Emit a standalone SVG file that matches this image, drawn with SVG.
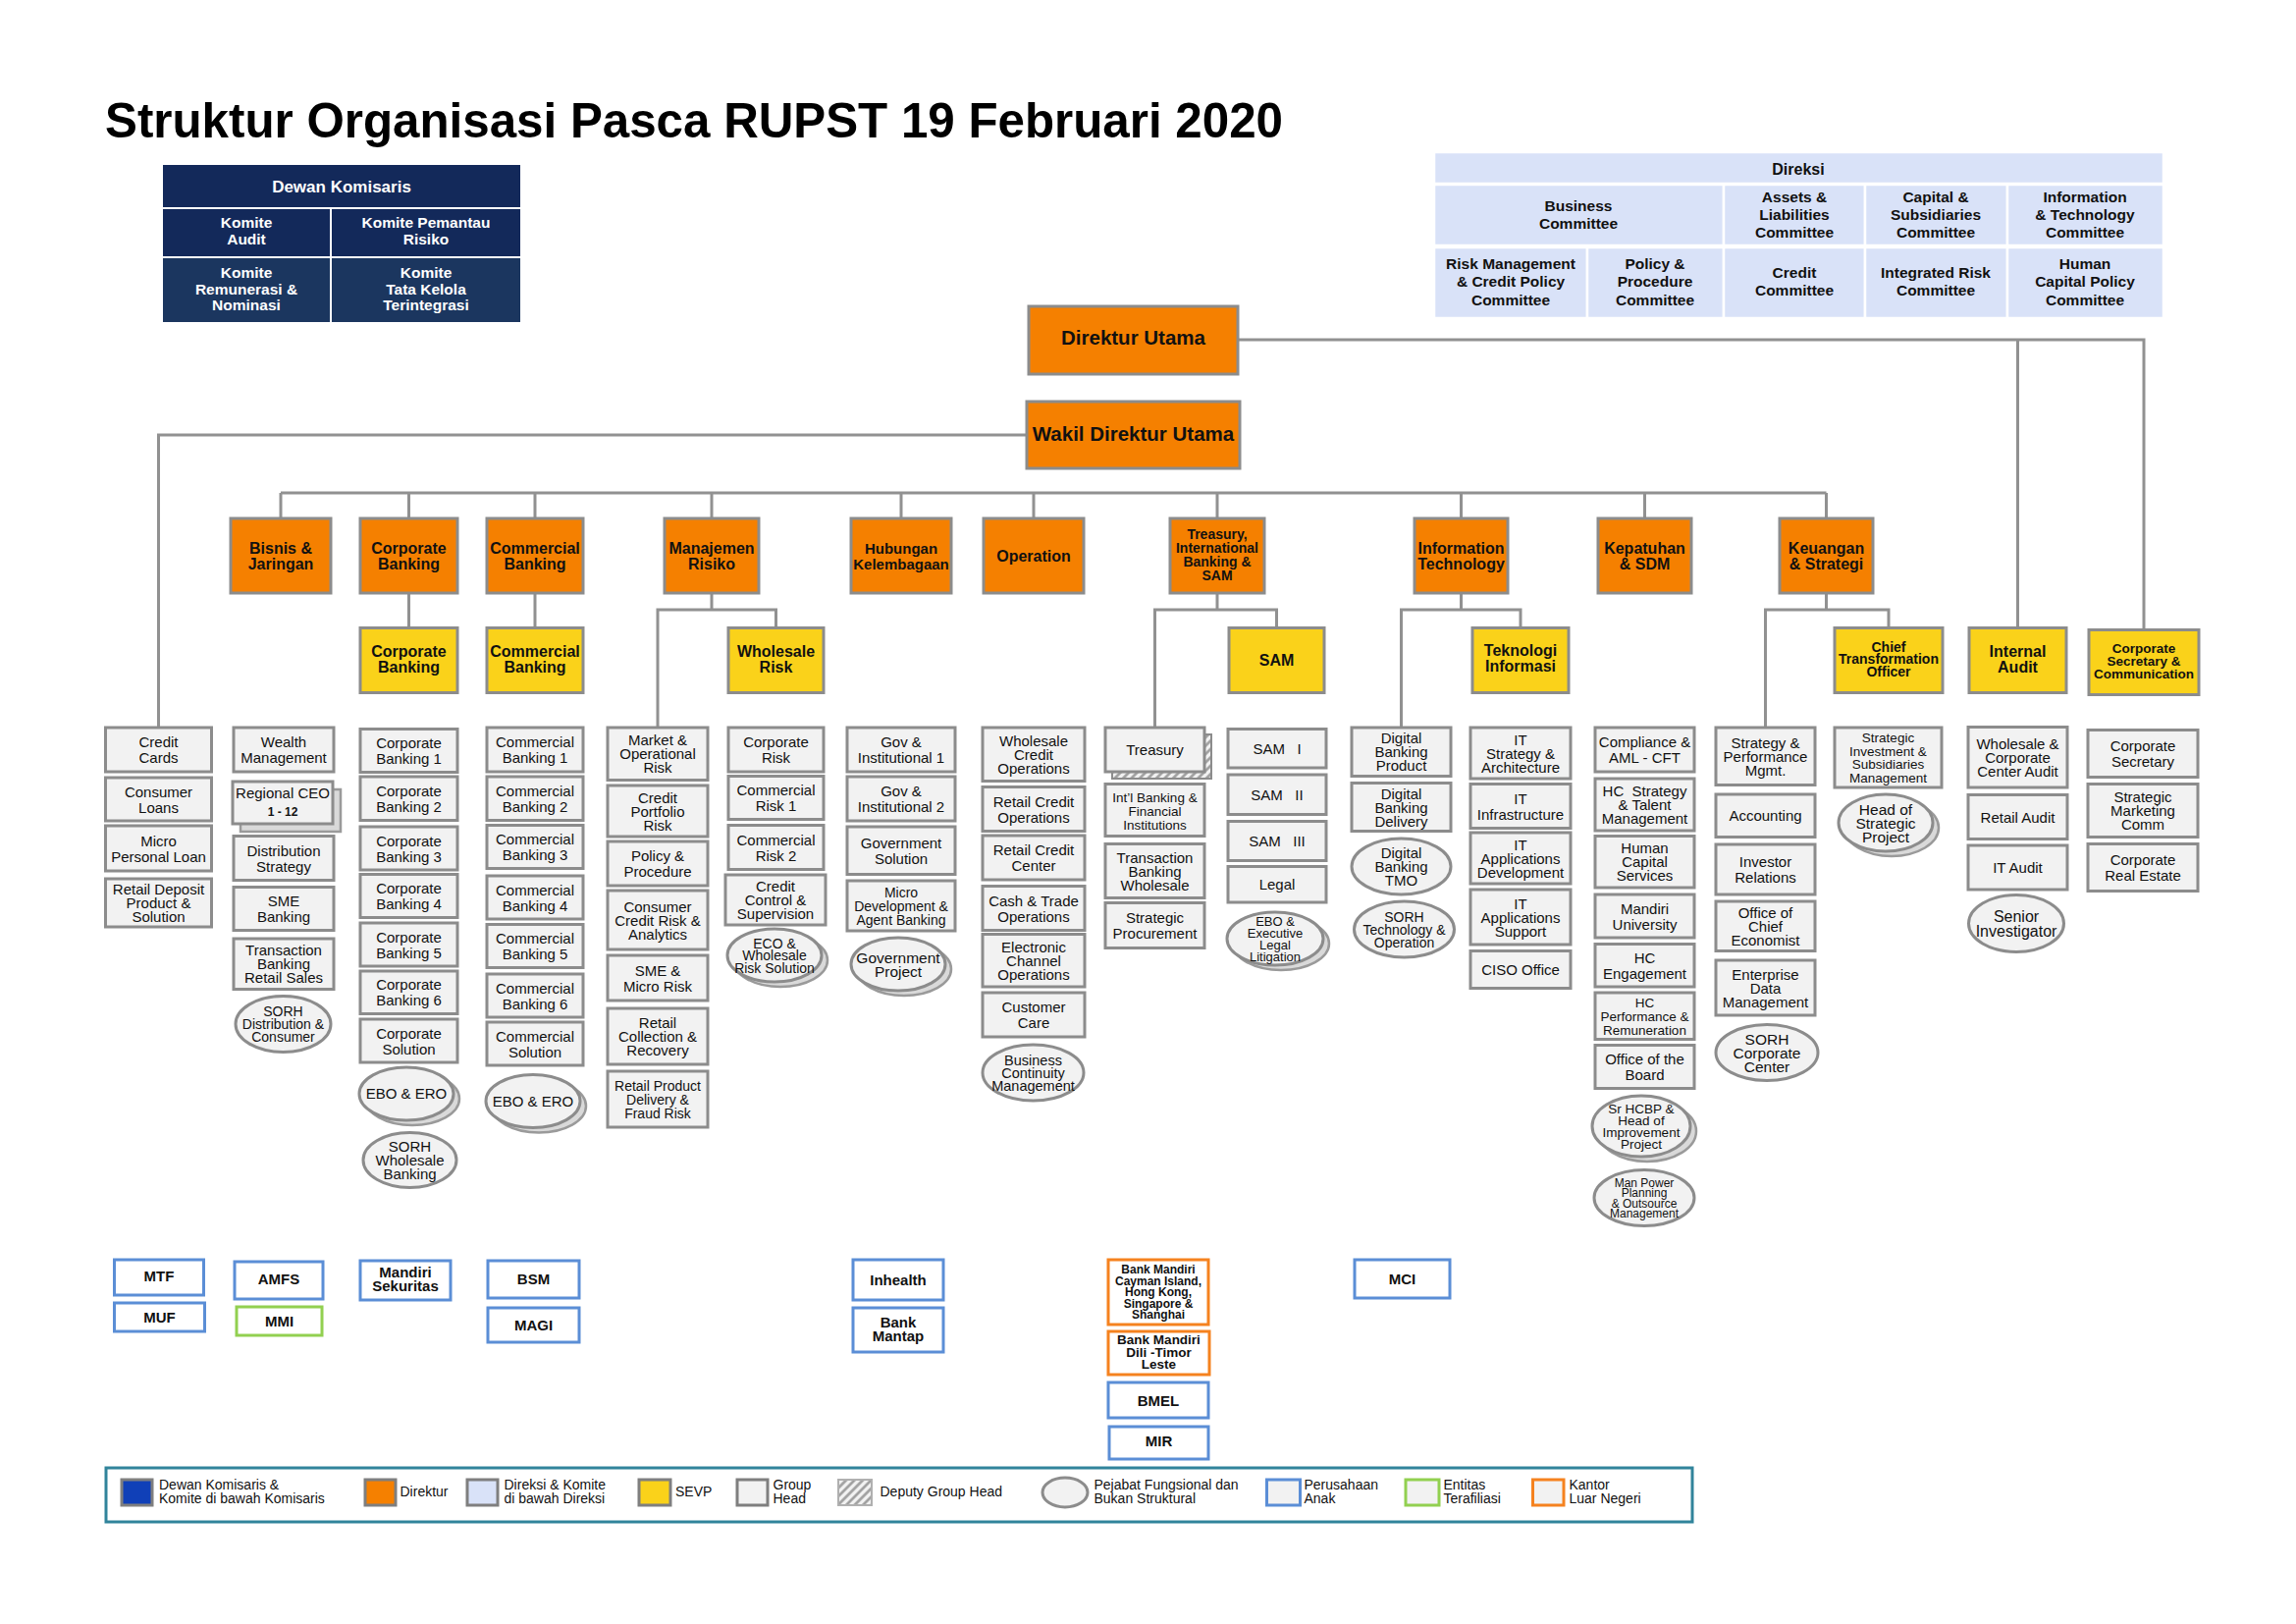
<svg xmlns="http://www.w3.org/2000/svg" width="2339" height="1654" viewBox="0 0 2339 1654">
<defs>
<pattern id="hatch" patternUnits="userSpaceOnUse" width="6" height="6" patternTransform="rotate(45)">
<rect width="6" height="6" fill="#f2f2f2"/><line x1="1.5" y1="0" x2="1.5" y2="6" stroke="#9a9a9a" stroke-width="2.5"/>
</pattern>
<style>
.t{font-family:"Liberation Sans",Arial,sans-serif;text-anchor:middle;fill:#111}
.l{font-family:"Liberation Sans",Arial,sans-serif;text-anchor:start;fill:#111;font-size:14px}
.f17{font-size:17px}.f16{font-size:16px}.f155{font-size:15.5px}.f15{font-size:15px}.f145{font-size:14.5px}.f14{font-size:14px}.f135{font-size:13.5px}.f13{font-size:13px}.f12{font-size:12px}
.b{font-weight:bold}.w{fill:#fff}
.gb{fill:#f2f2f2;stroke:#8c8c8c;stroke-width:3}
.gs{fill:#d9d9d9;stroke:#9a9a9a;stroke-width:2.5}
.ob{fill:#f58000;stroke:#8c8c8c;stroke-width:3}
.yb{fill:#fad21a;stroke:#8c8c8c;stroke-width:3}
.sb{fill:#fff;stroke:#5b8ed6;stroke-width:3}
.gr{fill:#fff;stroke:#92d050;stroke-width:3}
.kb{fill:#fff;stroke:#f5821f;stroke-width:3}
.dk{fill:#d9e2f8;stroke:#fff;stroke-width:2.5}
.con{fill:none;stroke:#919191;stroke-width:3}
</style>
</defs>
<rect width="2339" height="1654" fill="#fff"/>

<text x="107" y="140" font-family="Liberation Sans,Arial,sans-serif" font-weight="bold" font-size="50" fill="#000" textLength="1200" lengthAdjust="spacingAndGlyphs">Struktur Organisasi Pasca RUPST 19 Februari 2020</text>

<g id="dewan-komisaris">
<rect x="166" y="168" width="364" height="43" fill="#13295a"/>
<rect x="166" y="213" width="170" height="48" fill="#13295a"/>
<rect x="338" y="213" width="192" height="48" fill="#13295a"/>
<rect x="166" y="263" width="170" height="65" fill="#1b365f"/>
<rect x="338" y="263" width="192" height="65" fill="#1b365f"/>
<text class="t b w f17" x="348" y="196">Dewan Komisaris</text>
<text class="t b w f155"><tspan x="251" y="232">Komite</tspan><tspan x="251" y="249">Audit</tspan></text>
<text class="t b w f155"><tspan x="434" y="232">Komite Pemantau</tspan><tspan x="434" y="249">Risiko</tspan></text>
<text class="t b w f155"><tspan x="251" y="283">Komite</tspan><tspan x="251" y="299.5">Remunerasi &amp;</tspan><tspan x="251" y="315.5">Nominasi</tspan></text>
<text class="t b w f155"><tspan x="434" y="283">Komite</tspan><tspan x="434" y="299.5">Tata Kelola</tspan><tspan x="434" y="315.5">Terintegrasi</tspan></text>
</g>

<g id="direksi">
<rect class="dk" x="1461" y="155" width="743" height="32"/>
<rect class="dk" x="1461" y="188" width="295" height="62"/>
<rect class="dk" x="1756" y="188" width="144" height="62"/>
<rect class="dk" x="1900" y="188" width="145" height="62"/>
<rect class="dk" x="2045" y="188" width="159" height="62"/>
<rect class="dk" x="1461" y="252" width="156" height="72"/>
<rect class="dk" x="1617" y="252" width="139" height="72"/>
<rect class="dk" x="1756" y="252" width="144" height="72"/>
<rect class="dk" x="1900" y="252" width="145" height="72"/>
<rect class="dk" x="2045" y="252" width="159" height="72"/>
<text class="t b f16" x="1832" y="178">Direksi</text>
<text class="t b f155"><tspan x="1608" y="214.5">Business</tspan><tspan x="1608" y="233">Committee</tspan></text>
<text class="t b f155"><tspan x="1828" y="205.5">Assets &amp;</tspan><tspan x="1828" y="224">Liabilities</tspan><tspan x="1828" y="242">Committee</tspan></text>
<text class="t b f155"><tspan x="1972" y="205.5">Capital &amp;</tspan><tspan x="1972" y="224">Subsidiaries</tspan><tspan x="1972" y="242">Committee</tspan></text>
<text class="t b f155"><tspan x="2124" y="205.5">Information</tspan><tspan x="2124" y="224">&amp; Technology</tspan><tspan x="2124" y="242">Committee</tspan></text>
<text class="t b f155"><tspan x="1539" y="274">Risk Management</tspan><tspan x="1539" y="292">&amp; Credit Policy</tspan><tspan x="1539" y="311">Committee</tspan></text>
<text class="t b f155"><tspan x="1686" y="274">Policy &amp;</tspan><tspan x="1686" y="292">Procedure</tspan><tspan x="1686" y="311">Committee</tspan></text>
<text class="t b f155"><tspan x="1828" y="283">Credit</tspan><tspan x="1828" y="301">Committee</tspan></text>
<text class="t b f155"><tspan x="1972" y="283">Integrated Risk</tspan><tspan x="1972" y="301">Committee</tspan></text>
<text class="t b f155"><tspan x="2124" y="274">Human</tspan><tspan x="2124" y="292">Capital Policy</tspan><tspan x="2124" y="311">Committee</tspan></text>
</g>

<g id="connectors">
<path class="con" d="M1261 346 H2184 V641.5"/>
<path class="con" d="M2055.5 346 V639.5"/>
<path class="con" d="M1046 443 H161.5 V741"/>
<path class="con" d="M286 502 H1860.5"/>
<path class="con" d="M286 502 V528 M416.5 502 V528 M545 502 V528 M725 502 V528 M918 502 V528 M1053 502 V528 M1240 502 V528 M1488.5 502 V528 M1675.5 502 V528 M1860.5 502 V528"/>
<path class="con" d="M416.5 604 V639.5 M545 604 V639.5"/>
<path class="con" d="M725 604 V621 M670 741 V621 H790.5 V639.5"/>
<path class="con" d="M1240 604 V621 M1176.5 741 V621 H1300.5 V639.5"/>
<path class="con" d="M1488.5 604 V621 M1427.5 741 V621 H1549 V639.5"/>
<path class="con" d="M1860.5 604 V621 M1798.5 741 V621 H1924 V639.5"/>
</g>

<g id="direktur-utama"><rect class="ob" x="1048" y="312" width="213" height="69"/><text class="t b" font-size="20.5" x="1154.5" y="351">Direktur Utama</text></g>
<g id="wakil-direktur-utama"><rect class="ob" x="1046" y="409" width="217" height="68"/><text class="t b" font-size="20.5" x="1154.5" y="448.5">Wakil Direktur Utama</text></g>

<g id="dir-bisnis"><rect class="ob" x="235" y="528" width="102" height="76"/><text class="t b f16"><tspan x="286" y="564">Bisnis &amp;</tspan><tspan x="286" y="580">Jaringan</tspan></text></g>
<g id="dir-corporate"><rect class="ob" x="367" y="528" width="99" height="76"/><text class="t b f16"><tspan x="416.5" y="564">Corporate</tspan><tspan x="416.5" y="580">Banking</tspan></text></g>
<g id="dir-commercial"><rect class="ob" x="496" y="528" width="98" height="76"/><text class="t b f16"><tspan x="545" y="564">Commercial</tspan><tspan x="545" y="580">Banking</tspan></text></g>
<g id="dir-risiko"><rect class="ob" x="677" y="528" width="96" height="76"/><text class="t b f16"><tspan x="725" y="564">Manajemen</tspan><tspan x="725" y="580">Risiko</tspan></text></g>
<g id="dir-hubungan"><rect class="ob" x="867" y="528" width="102" height="76"/><text class="t b f15"><tspan x="918" y="564">Hubungan</tspan><tspan x="918" y="580">Kelembagaan</tspan></text></g>
<g id="dir-operation"><rect class="ob" x="1002" y="528" width="102" height="76"/><text class="t b f16" x="1053" y="572">Operation</text></g>
<g id="dir-treasury"><rect class="ob" x="1192" y="528" width="96" height="76"/><text class="t b f14"><tspan x="1240" y="549">Treasury,</tspan><tspan x="1240" y="563">International</tspan><tspan x="1240" y="577">Banking &amp;</tspan><tspan x="1240" y="591">SAM</tspan></text></g>
<g id="dir-it"><rect class="ob" x="1441" y="528" width="95" height="76"/><text class="t b f16"><tspan x="1488.5" y="564">Information</tspan><tspan x="1488.5" y="580">Technology</tspan></text></g>
<g id="dir-kepatuhan"><rect class="ob" x="1628" y="528" width="95" height="76"/><text class="t b f16"><tspan x="1675.5" y="564">Kepatuhan</tspan><tspan x="1675.5" y="580">&amp; SDM</tspan></text></g>
<g id="dir-keuangan"><rect class="ob" x="1813" y="528" width="95" height="76"/><text class="t b f16"><tspan x="1860.5" y="564">Keuangan</tspan><tspan x="1860.5" y="580">&amp; Strategi</tspan></text></g>

<g id="sevp-corporate"><rect class="yb" x="367" y="639.5" width="99" height="66"/><text class="t b f16"><tspan x="416.5" y="668.5">Corporate</tspan><tspan x="416.5" y="684.5">Banking</tspan></text></g>
<g id="sevp-commercial"><rect class="yb" x="496" y="639.5" width="98" height="66"/><text class="t b f16"><tspan x="545" y="668.5">Commercial</tspan><tspan x="545" y="684.5">Banking</tspan></text></g>
<g id="sevp-wholesale-risk"><rect class="yb" x="742" y="639.5" width="97" height="66"/><text class="t b f16"><tspan x="790.5" y="668.5">Wholesale</tspan><tspan x="790.5" y="684.5">Risk</tspan></text></g>
<g id="sevp-sam"><rect class="yb" x="1252" y="639.5" width="97" height="66"/><text class="t b f16" x="1300.5" y="678">SAM</text></g>
<g id="sevp-teknologi"><rect class="yb" x="1500" y="639.5" width="98" height="66"/><text class="t b f16"><tspan x="1549" y="668">Teknologi</tspan><tspan x="1549" y="684">Informasi</tspan></text></g>
<g id="sevp-cto"><rect class="yb" x="1869" y="639.5" width="110" height="66"/><text class="t b f14"><tspan x="1924" y="663.5">Chief</tspan><tspan x="1924" y="676">Transformation</tspan><tspan x="1924" y="688.5">Officer</tspan></text></g>
<g id="sevp-internal-audit"><rect class="yb" x="2006" y="639.5" width="99" height="66"/><text class="t b f16"><tspan x="2055.5" y="668.5">Internal</tspan><tspan x="2055.5" y="684.5">Audit</tspan></text></g>
<g id="sevp-corsec"><rect class="yb" x="2128" y="641.5" width="112" height="66"/><text class="t b f135"><tspan x="2184" y="665">Corporate</tspan><tspan x="2184" y="678">Secretary &amp;</tspan><tspan x="2184" y="691">Communication</tspan></text></g>

<!-- Column 1 -->
<g id="credit-cards"><rect class="gb" x="107.5" y="741" width="108" height="45"/><text class="t f15"><tspan x="161.5" y="761">Credit</tspan><tspan x="161.5" y="777">Cards</tspan></text></g>
<g id="consumer-loans"><rect class="gb" x="107.5" y="792" width="108" height="44"/><text class="t f15"><tspan x="161.5" y="811.5">Consumer</tspan><tspan x="161.5" y="827.5">Loans</tspan></text></g>
<g id="micro-personal-loan"><rect class="gb" x="107.5" y="841" width="108" height="46"/><text class="t f15"><tspan x="161.5" y="861.5">Micro</tspan><tspan x="161.5" y="877.5">Personal Loan</tspan></text></g>
<g id="retail-deposit"><rect class="gb" x="107.5" y="895" width="108" height="49"/><text class="t f15"><tspan x="161.5" y="911">Retail Deposit</tspan><tspan x="161.5" y="925">Product &amp;</tspan><tspan x="161.5" y="939">Solution</tspan></text></g>

<!-- Column 2 -->
<g id="wealth-management"><rect class="gb" x="238" y="741" width="102" height="45"/><text class="t f15"><tspan x="289" y="761">Wealth</tspan><tspan x="289" y="777">Management</tspan></text></g>
<g id="regional-ceo"><rect class="gs" x="245" y="804" width="102" height="43"/><rect class="gb" x="237" y="796" width="102" height="43"/><text class="t f15"><tspan x="288" y="812.5">Regional CEO</tspan><tspan class="b f12" x="288" y="831">1 - 12</tspan></text></g>
<g id="distribution-strategy"><rect class="gb" x="238" y="851.5" width="102" height="45"/><text class="t f15"><tspan x="289" y="871.5">Distribution</tspan><tspan x="289" y="887.5">Strategy</tspan></text></g>
<g id="sme-banking"><rect class="gb" x="238" y="903.5" width="102" height="44"/><text class="t f15"><tspan x="289" y="923">SME</tspan><tspan x="289" y="939">Banking</tspan></text></g>
<g id="transaction-banking-retail"><rect class="gb" x="238" y="956" width="102" height="51.5"/><text class="t f15"><tspan x="289" y="973">Transaction</tspan><tspan x="289" y="987">Banking</tspan><tspan x="289" y="1001">Retail Sales</tspan></text></g>
<g id="sorh-distribution"><ellipse class="gb" cx="288.5" cy="1043" rx="48.5" ry="28.5"/><text class="t f14"><tspan x="288.5" y="1035">SORH</tspan><tspan x="288.5" y="1048">Distribution &amp;</tspan><tspan x="288.5" y="1061">Consumer</tspan></text></g>

<!-- Column 3 -->
<g id="corporate-banking-1"><rect class="gb" x="367" y="742.5" width="99" height="44"/><text class="t f15"><tspan x="416.5" y="762">Corporate</tspan><tspan x="416.5" y="778">Banking 1</tspan></text></g>
<g id="corporate-banking-2"><rect class="gb" x="367" y="791" width="99" height="44.5"/><text class="t f15"><tspan x="416.5" y="810.5">Corporate</tspan><tspan x="416.5" y="826.5">Banking 2</tspan></text></g>
<g id="corporate-banking-3"><rect class="gb" x="367" y="842" width="99" height="44"/><text class="t f15"><tspan x="416.5" y="861.5">Corporate</tspan><tspan x="416.5" y="877.5">Banking 3</tspan></text></g>
<g id="corporate-banking-4"><rect class="gb" x="367" y="890.5" width="99" height="44"/><text class="t f15"><tspan x="416.5" y="910">Corporate</tspan><tspan x="416.5" y="926">Banking 4</tspan></text></g>
<g id="corporate-banking-5"><rect class="gb" x="367" y="940" width="99" height="44"/><text class="t f15"><tspan x="416.5" y="959.5">Corporate</tspan><tspan x="416.5" y="975.5">Banking 5</tspan></text></g>
<g id="corporate-banking-6"><rect class="gb" x="367" y="989" width="99" height="43.5"/><text class="t f15"><tspan x="416.5" y="1008">Corporate</tspan><tspan x="416.5" y="1024">Banking 6</tspan></text></g>
<g id="corporate-solution"><rect class="gb" x="367" y="1038" width="99" height="44"/><text class="t f15"><tspan x="416.5" y="1057.5">Corporate</tspan><tspan x="416.5" y="1073.5">Solution</tspan></text></g>
<g id="ebo-ero-corporate"><ellipse class="gs" cx="420" cy="1119" rx="48" ry="27"/><ellipse class="gb" cx="414" cy="1114" rx="48" ry="27"/><text class="t f15" x="414" y="1119">EBO &amp; ERO</text></g>
<g id="sorh-wholesale-banking"><ellipse class="gb" cx="417.5" cy="1181.5" rx="47.5" ry="28"/><text class="t f15"><tspan x="417.5" y="1172.5">SORH</tspan><tspan x="417.5" y="1186.5">Wholesale</tspan><tspan x="417.5" y="1200.5">Banking</tspan></text></g>

<!-- Column 4 -->
<g id="commercial-banking-1"><rect class="gb" x="496" y="741" width="98" height="45"/><text class="t f15"><tspan x="545" y="761">Commercial</tspan><tspan x="545" y="777">Banking 1</tspan></text></g>
<g id="commercial-banking-2"><rect class="gb" x="496" y="791" width="98" height="44.5"/><text class="t f15"><tspan x="545" y="810.5">Commercial</tspan><tspan x="545" y="826.5">Banking 2</tspan></text></g>
<g id="commercial-banking-3"><rect class="gb" x="496" y="840.5" width="98" height="44"/><text class="t f15"><tspan x="545" y="860">Commercial</tspan><tspan x="545" y="876">Banking 3</tspan></text></g>
<g id="commercial-banking-4"><rect class="gb" x="496" y="892" width="98" height="44"/><text class="t f15"><tspan x="545" y="911.5">Commercial</tspan><tspan x="545" y="927.5">Banking 4</tspan></text></g>
<g id="commercial-banking-5"><rect class="gb" x="496" y="941.5" width="98" height="44"/><text class="t f15"><tspan x="545" y="961">Commercial</tspan><tspan x="545" y="977">Banking 5</tspan></text></g>
<g id="commercial-banking-6"><rect class="gb" x="496" y="992" width="98" height="44"/><text class="t f15"><tspan x="545" y="1011.5">Commercial</tspan><tspan x="545" y="1027.5">Banking 6</tspan></text></g>
<g id="commercial-solution"><rect class="gb" x="496" y="1041" width="98" height="44"/><text class="t f15"><tspan x="545" y="1060.5">Commercial</tspan><tspan x="545" y="1076.5">Solution</tspan></text></g>
<g id="ebo-ero-commercial"><ellipse class="gs" cx="549" cy="1126.5" rx="48" ry="27"/><ellipse class="gb" cx="543" cy="1121.5" rx="48" ry="27"/><text class="t f15" x="543" y="1126.5">EBO &amp; ERO</text></g>

<!-- Column 5 -->
<g id="market-operational-risk"><rect class="gb" x="619" y="741" width="102" height="53.5"/><text class="t f15"><tspan x="670" y="759">Market &amp;</tspan><tspan x="670" y="773">Operational</tspan><tspan x="670" y="787">Risk</tspan></text></g>
<g id="credit-portfolio-risk"><rect class="gb" x="619" y="800" width="102" height="52"/><text class="t f15"><tspan x="670" y="817.5">Credit</tspan><tspan x="670" y="831.5">Portfolio</tspan><tspan x="670" y="845.5">Risk</tspan></text></g>
<g id="policy-procedure"><rect class="gb" x="619" y="857" width="102" height="45"/><text class="t f15"><tspan x="670" y="877">Policy &amp;</tspan><tspan x="670" y="893">Procedure</tspan></text></g>
<g id="consumer-credit-risk"><rect class="gb" x="619" y="907" width="102" height="60"/><text class="t f15"><tspan x="670" y="928.5">Consumer</tspan><tspan x="670" y="942.5">Credit Risk &amp;</tspan><tspan x="670" y="956.5">Analytics</tspan></text></g>
<g id="sme-micro-risk"><rect class="gb" x="619" y="973" width="102" height="46"/><text class="t f15"><tspan x="670" y="993.5">SME &amp;</tspan><tspan x="670" y="1009.5">Micro Risk</tspan></text></g>
<g id="retail-collection"><rect class="gb" x="619" y="1027" width="102" height="57"/><text class="t f15"><tspan x="670" y="1047">Retail</tspan><tspan x="670" y="1061">Collection &amp;</tspan><tspan x="670" y="1075">Recovery</tspan></text></g>
<g id="retail-product-delivery"><rect class="gb" x="619" y="1091" width="102" height="57"/><text class="t f14"><tspan x="670" y="1110.5">Retail Product</tspan><tspan x="670" y="1124.5">Delivery &amp;</tspan><tspan x="670" y="1138.5">Fraud Risk</tspan></text></g>

<!-- Column 6 -->
<g id="corporate-risk"><rect class="gb" x="742" y="741" width="97" height="45"/><text class="t f15"><tspan x="790.5" y="761">Corporate</tspan><tspan x="790.5" y="777">Risk</tspan></text></g>
<g id="commercial-risk-1"><rect class="gb" x="742" y="790.5" width="97" height="44"/><text class="t f15"><tspan x="790.5" y="810">Commercial</tspan><tspan x="790.5" y="826">Risk 1</tspan></text></g>
<g id="commercial-risk-2"><rect class="gb" x="742" y="840.5" width="97" height="45"/><text class="t f15"><tspan x="790.5" y="860.5">Commercial</tspan><tspan x="790.5" y="876.5">Risk 2</tspan></text></g>
<g id="credit-control"><rect class="gb" x="739" y="891" width="102" height="51"/><text class="t f15"><tspan x="790" y="908">Credit</tspan><tspan x="790" y="922">Control &amp;</tspan><tspan x="790" y="936">Supervision</tspan></text></g>
<g id="eco-wholesale-risk"><ellipse class="gs" cx="795" cy="978" rx="48" ry="27"/><ellipse class="gb" cx="789" cy="973" rx="48" ry="27"/><text class="t f14"><tspan x="789" y="965.5">ECO &amp;</tspan><tspan x="789" y="978">Wholesale</tspan><tspan x="789" y="990.5">Risk Solution</tspan></text></g>

<!-- Column 7 -->
<g id="gov-institutional-1"><rect class="gb" x="863" y="741" width="110" height="45"/><text class="t f15"><tspan x="918" y="761">Gov &amp;</tspan><tspan x="918" y="777">Institutional 1</tspan></text></g>
<g id="gov-institutional-2"><rect class="gb" x="863" y="791" width="110" height="45"/><text class="t f15"><tspan x="918" y="811">Gov &amp;</tspan><tspan x="918" y="827">Institutional 2</tspan></text></g>
<g id="government-solution"><rect class="gb" x="863" y="842" width="110" height="48.5"/><text class="t f15"><tspan x="918" y="863.5">Government</tspan><tspan x="918" y="879.5">Solution</tspan></text></g>
<g id="micro-development"><rect class="gb" x="863" y="897" width="110" height="51"/><text class="t f14"><tspan x="918" y="914">Micro</tspan><tspan x="918" y="928">Development &amp;</tspan><tspan x="918" y="942">Agent Banking</tspan></text></g>
<g id="government-project"><ellipse class="gs" cx="921" cy="987" rx="48" ry="27"/><ellipse class="gb" cx="915" cy="982" rx="48" ry="27"/><text class="t f155"><tspan x="915" y="981">Government</tspan><tspan x="915" y="995">Project</tspan></text></g>

<!-- Column 8 -->
<g id="wholesale-credit-operations"><rect class="gb" x="1001" y="741" width="104" height="54.5"/><text class="t f15"><tspan x="1053" y="759.5">Wholesale</tspan><tspan x="1053" y="773.5">Credit</tspan><tspan x="1053" y="787.5">Operations</tspan></text></g>
<g id="retail-credit-operations"><rect class="gb" x="1001" y="801.5" width="104" height="45"/><text class="t f15"><tspan x="1053" y="821.5">Retail Credit</tspan><tspan x="1053" y="837.5">Operations</tspan></text></g>
<g id="retail-credit-center"><rect class="gb" x="1001" y="851" width="104" height="45"/><text class="t f15"><tspan x="1053" y="871">Retail Credit</tspan><tspan x="1053" y="887">Center</tspan></text></g>
<g id="cash-trade-operations"><rect class="gb" x="1001" y="902.5" width="104" height="45"/><text class="t f15"><tspan x="1053" y="922.5">Cash &amp; Trade</tspan><tspan x="1053" y="938.5">Operations</tspan></text></g>
<g id="electronic-channel-operations"><rect class="gb" x="1001" y="951.5" width="104" height="53.5"/><text class="t f15"><tspan x="1053" y="969.5">Electronic</tspan><tspan x="1053" y="983.5">Channel</tspan><tspan x="1053" y="997.5">Operations</tspan></text></g>
<g id="customer-care"><rect class="gb" x="1001" y="1011" width="104" height="45"/><text class="t f15"><tspan x="1053" y="1031">Customer</tspan><tspan x="1053" y="1047">Care</tspan></text></g>
<g id="business-continuity"><ellipse class="gb" cx="1052.5" cy="1092.5" rx="51.5" ry="28.5"/><text class="t f145"><tspan x="1052.5" y="1084.5">Business</tspan><tspan x="1052.5" y="1097.5">Continuity</tspan><tspan x="1052.5" y="1110.5">Management</tspan></text></g>

<!-- Column 9 -->
<g id="treasury"><rect x="1133" y="748" width="101" height="45" fill="url(#hatch)" stroke="#8c8c8c" stroke-width="2"/><rect class="gb" x="1126" y="741" width="101" height="45"/><text class="t f15" x="1176.5" y="769">Treasury</text></g>
<g id="intl-banking"><rect class="gb" x="1126" y="798.5" width="101" height="53"/><text class="t f135"><tspan x="1176.5" y="816.5">Int’l Banking &amp;</tspan><tspan x="1176.5" y="830.5">Financial</tspan><tspan x="1176.5" y="844.5">Institutions</tspan></text></g>
<g id="transaction-banking-wholesale"><rect class="gb" x="1126" y="859.5" width="101" height="55"/><text class="t f15"><tspan x="1176.5" y="878.5">Transaction</tspan><tspan x="1176.5" y="892.5">Banking</tspan><tspan x="1176.5" y="906.5">Wholesale</tspan></text></g>
<g id="strategic-procurement"><rect class="gb" x="1126" y="919.5" width="101" height="46"/><text class="t f15"><tspan x="1176.5" y="940">Strategic</tspan><tspan x="1176.5" y="956">Procurement</tspan></text></g>

<!-- Column 10 -->
<g id="sam-1"><rect class="gb" x="1251" y="742.5" width="100" height="39.5"/><text class="t f15" xml:space="preserve" style="white-space:pre" x="1301" y="767.5">SAM   I</text></g>
<g id="sam-2"><rect class="gb" x="1251" y="789" width="100" height="40.5"/><text class="t f15" xml:space="preserve" style="white-space:pre" x="1301" y="814.5">SAM   II</text></g>
<g id="sam-3"><rect class="gb" x="1251" y="836.5" width="100" height="40"/><text class="t f15" xml:space="preserve" style="white-space:pre" x="1301" y="862">SAM   III</text></g>
<g id="legal"><rect class="gb" x="1251" y="882.5" width="100" height="36.5"/><text class="t f15" x="1301" y="906">Legal</text></g>
<g id="ebo-legal-litigation"><ellipse class="gs" cx="1305" cy="961" rx="49" ry="27"/><ellipse class="gb" cx="1299" cy="956" rx="49" ry="27"/><text class="t f13"><tspan x="1299" y="942.5">EBO &amp;</tspan><tspan x="1299" y="954.5">Executive</tspan><tspan x="1299" y="966.5">Legal</tspan><tspan x="1299" y="978.5">Litigation</tspan></text></g>

<!-- Column 11 -->
<g id="digital-banking-product"><rect class="gb" x="1377" y="741" width="101" height="49.5"/><text class="t f15"><tspan x="1427.5" y="757">Digital</tspan><tspan x="1427.5" y="771">Banking</tspan><tspan x="1427.5" y="785">Product</tspan></text></g>
<g id="digital-banking-delivery"><rect class="gb" x="1377" y="797.5" width="101" height="49"/><text class="t f15"><tspan x="1427.5" y="813.5">Digital</tspan><tspan x="1427.5" y="827.5">Banking</tspan><tspan x="1427.5" y="841.5">Delivery</tspan></text></g>
<g id="digital-banking-tmo"><ellipse class="gb" cx="1427.5" cy="882.5" rx="50.5" ry="28.5"/><text class="t f15"><tspan x="1427.5" y="874">Digital</tspan><tspan x="1427.5" y="888">Banking</tspan><tspan x="1427.5" y="902">TMO</tspan></text></g>
<g id="sorh-technology"><ellipse class="gb" cx="1430.5" cy="946.5" rx="51" ry="28.5"/><text class="t f14"><tspan x="1430.5" y="938.5">SORH</tspan><tspan x="1430.5" y="951.5">Technology &amp;</tspan><tspan x="1430.5" y="964.5">Operation</tspan></text></g>

<!-- Column 12 -->
<g id="it-strategy"><rect class="gb" x="1498" y="741" width="102" height="52"/><text class="t f15"><tspan x="1549" y="758.5">IT</tspan><tspan x="1549" y="772.5">Strategy &amp;</tspan><tspan x="1549" y="786.5">Architecture</tspan></text></g>
<g id="it-infrastructure"><rect class="gb" x="1498" y="798.5" width="102" height="45"/><text class="t f15"><tspan x="1549" y="818.5">IT</tspan><tspan x="1549" y="834.5">Infrastructure</tspan></text></g>
<g id="it-app-development"><rect class="gb" x="1498" y="848" width="102" height="52"/><text class="t f15"><tspan x="1549" y="865.5">IT</tspan><tspan x="1549" y="879.5">Applications</tspan><tspan x="1549" y="893.5">Development</tspan></text></g>
<g id="it-app-support"><rect class="gb" x="1498" y="906" width="102" height="56"/><text class="t f15"><tspan x="1549" y="925.5">IT</tspan><tspan x="1549" y="939.5">Applications</tspan><tspan x="1549" y="953.5">Support</tspan></text></g>
<g id="ciso-office"><rect class="gb" x="1498" y="968.5" width="102" height="38"/><text class="t f15" x="1549" y="993">CISO Office</text></g>

<!-- Column 13 -->
<g id="compliance"><rect class="gb" x="1625" y="741" width="101" height="45"/><text class="t f15"><tspan x="1675.5" y="761">Compliance &amp;</tspan><tspan x="1675.5" y="777">AML - CFT</tspan></text></g>
<g id="hc-strategy"><rect class="gb" x="1625" y="793" width="101" height="53"/><text class="t f15" xml:space="preserve" style="white-space:pre"><tspan x="1675.5" y="811">HC  Strategy</tspan><tspan x="1675.5" y="825">&amp; Talent</tspan><tspan x="1675.5" y="839">Management</tspan></text></g>
<g id="human-capital-services"><rect class="gb" x="1625" y="851.5" width="101" height="52.5"/><text class="t f15"><tspan x="1675.5" y="869">Human</tspan><tspan x="1675.5" y="883">Capital</tspan><tspan x="1675.5" y="897">Services</tspan></text></g>
<g id="mandiri-university"><rect class="gb" x="1625" y="911" width="101" height="44"/><text class="t f15"><tspan x="1675.5" y="930.5">Mandiri</tspan><tspan x="1675.5" y="946.5">University</tspan></text></g>
<g id="hc-engagement"><rect class="gb" x="1625" y="961.5" width="101" height="43.5"/><text class="t f15"><tspan x="1675.5" y="980.5">HC</tspan><tspan x="1675.5" y="996.5">Engagement</tspan></text></g>
<g id="hc-performance"><rect class="gb" x="1625" y="1011" width="101" height="47.5"/><text class="t f135"><tspan x="1675.5" y="1025.5">HC</tspan><tspan x="1675.5" y="1039.5">Performance &amp;</tspan><tspan x="1675.5" y="1053.5">Remuneration</tspan></text></g>
<g id="office-of-the-board"><rect class="gb" x="1625" y="1064.5" width="101" height="44"/><text class="t f15"><tspan x="1675.5" y="1084">Office of the</tspan><tspan x="1675.5" y="1100">Board</tspan></text></g>
<g id="sr-hcbp"><ellipse class="gs" cx="1678" cy="1152" rx="50" ry="31"/><ellipse class="gb" cx="1672" cy="1147" rx="50" ry="31"/><text class="t f135"><tspan x="1672" y="1133.5">Sr HCBP &amp;</tspan><tspan x="1672" y="1145.5">Head of</tspan><tspan x="1672" y="1157.5">Improvement</tspan><tspan x="1672" y="1169.5">Project</tspan></text></g>
<g id="man-power"><ellipse class="gb" cx="1675" cy="1220" rx="51" ry="28.5"/><text class="t f12"><tspan x="1675" y="1208.5">Man Power</tspan><tspan x="1675" y="1219">Planning</tspan><tspan x="1675" y="1229.5">&amp; Outsource</tspan><tspan x="1675" y="1240">Management</tspan></text></g>

<!-- Column 14 -->
<g id="strategy-performance"><rect class="gb" x="1748" y="741" width="101" height="58.5"/><text class="t f15"><tspan x="1798.5" y="761.5">Strategy &amp;</tspan><tspan x="1798.5" y="775.5">Performance</tspan><tspan x="1798.5" y="789.5">Mgmt.</tspan></text></g>
<g id="accounting"><rect class="gb" x="1748" y="809" width="101" height="43.5"/><text class="t f15" x="1798.5" y="836">Accounting</text></g>
<g id="investor-relations"><rect class="gb" x="1748" y="860" width="101" height="51"/><text class="t f15"><tspan x="1798.5" y="883">Investor</tspan><tspan x="1798.5" y="899">Relations</tspan></text></g>
<g id="chief-economist"><rect class="gb" x="1748" y="918" width="101" height="50.5"/><text class="t f15"><tspan x="1798.5" y="934.5">Office of</tspan><tspan x="1798.5" y="948.5">Chief</tspan><tspan x="1798.5" y="962.5">Economist</tspan></text></g>
<g id="enterprise-data"><rect class="gb" x="1748" y="978" width="101" height="56"/><text class="t f15"><tspan x="1798.5" y="997.5">Enterprise</tspan><tspan x="1798.5" y="1011.5">Data</tspan><tspan x="1798.5" y="1025.5">Management</tspan></text></g>
<g id="sorh-corporate-center"><ellipse class="gb" cx="1800" cy="1072" rx="52" ry="28.5"/><text class="t f155"><tspan x="1800" y="1063.5">SORH</tspan><tspan x="1800" y="1077.5">Corporate</tspan><tspan x="1800" y="1091.5">Center</tspan></text></g>

<!-- Column 15 -->
<g id="strategic-investment"><rect class="gb" x="1869" y="741" width="109" height="61"/><text class="t f135"><tspan x="1923.5" y="756">Strategic</tspan><tspan x="1923.5" y="769.5">Investment &amp;</tspan><tspan x="1923.5" y="783">Subsidiaries</tspan><tspan x="1923.5" y="796.5">Management</tspan></text></g>
<g id="head-strategic-project"><ellipse class="gs" cx="1927" cy="843" rx="48" ry="29"/><ellipse class="gb" cx="1921" cy="838" rx="48" ry="29"/><text class="t f155"><tspan x="1921" y="829.5">Head of</tspan><tspan x="1921" y="843.5">Strategic</tspan><tspan x="1921" y="857.5">Project</tspan></text></g>

<!-- Column 16 -->
<g id="wholesale-corporate-audit"><rect class="gb" x="2005" y="740.5" width="101" height="61.5"/><text class="t f15"><tspan x="2055.5" y="762.5">Wholesale &amp;</tspan><tspan x="2055.5" y="776.5">Corporate</tspan><tspan x="2055.5" y="790.5">Center Audit</tspan></text></g>
<g id="retail-audit"><rect class="gb" x="2005" y="809.5" width="101" height="45"/><text class="t f15" x="2055.5" y="837.5">Retail Audit</text></g>
<g id="it-audit"><rect class="gb" x="2005" y="861" width="101" height="45"/><text class="t f15" x="2055.5" y="889">IT Audit</text></g>
<g id="senior-investigator"><ellipse class="gb" cx="2054" cy="940.5" rx="48.5" ry="29"/><text class="t f16"><tspan x="2054" y="938.5">Senior</tspan><tspan x="2054" y="953.5">Investigator</tspan></text></g>

<!-- Column 17 -->
<g id="corporate-secretary"><rect class="gb" x="2127" y="743.5" width="112" height="48"/><text class="t f15"><tspan x="2183" y="765">Corporate</tspan><tspan x="2183" y="781">Secretary</tspan></text></g>
<g id="strategic-marketing"><rect class="gb" x="2127" y="798.5" width="112" height="54"/><text class="t f15"><tspan x="2183" y="817">Strategic</tspan><tspan x="2183" y="831">Marketing</tspan><tspan x="2183" y="845">Comm</tspan></text></g>
<g id="corporate-real-estate"><rect class="gb" x="2127" y="859.5" width="112" height="48"/><text class="t f15"><tspan x="2183" y="881">Corporate</tspan><tspan x="2183" y="897">Real Estate</tspan></text></g>

<!-- Subsidiaries -->
<g id="mtf"><rect class="sb" x="116.5" y="1283" width="91" height="36"/><text class="t b f15" x="162" y="1305">MTF</text></g>
<g id="muf"><rect class="sb" x="116.5" y="1327" width="92" height="29"/><text class="t b f15" x="162.5" y="1346.5">MUF</text></g>
<g id="amfs"><rect class="sb" x="239" y="1285" width="90" height="38"/><text class="t b f15" x="284" y="1308">AMFS</text></g>
<g id="mmi"><rect class="gr" x="241" y="1331" width="87" height="29"/><text class="t b f15" x="284.5" y="1350.5">MMI</text></g>
<g id="mandiri-sekuritas"><rect class="sb" x="367" y="1284" width="92" height="40"/><text class="t b f15"><tspan x="413" y="1301">Mandiri</tspan><tspan x="413" y="1314.5">Sekuritas</tspan></text></g>
<g id="bsm"><rect class="sb" x="497" y="1284" width="93" height="38"/><text class="t b f15" x="543.5" y="1307.5">BSM</text></g>
<g id="magi"><rect class="sb" x="497" y="1332" width="93" height="35"/><text class="t b f15" x="543.5" y="1354.5">MAGI</text></g>
<g id="inhealth"><rect class="sb" x="869" y="1283" width="92" height="41"/><text class="t b f15" x="915" y="1308.5">Inhealth</text></g>
<g id="bank-mantap"><rect class="sb" x="869" y="1332" width="92" height="45"/><text class="t b f15"><tspan x="915" y="1351.5">Bank</tspan><tspan x="915" y="1366">Mantap</tspan></text></g>
<g id="bank-mandiri-overseas"><rect class="kb" x="1129" y="1283" width="102" height="66"/><text class="t b f12"><tspan x="1180" y="1296.5">Bank Mandiri</tspan><tspan x="1180" y="1308.5">Cayman Island,</tspan><tspan x="1180" y="1320">Hong Kong,</tspan><tspan x="1180" y="1331.5">Singapore &amp;</tspan><tspan x="1180" y="1342.5">Shanghai</tspan></text></g>
<g id="bank-mandiri-dili"><rect class="kb" x="1129" y="1356" width="103" height="44"/><text class="t b f135"><tspan x="1180.5" y="1369">Bank Mandiri</tspan><tspan x="1180.5" y="1381.5">Dili -Timor</tspan><tspan x="1180.5" y="1394">Leste</tspan></text></g>
<g id="bmel"><rect class="sb" x="1129" y="1408" width="102" height="36"/><text class="t b f15" x="1180" y="1431.5">BMEL</text></g>
<g id="mir"><rect class="sb" x="1130" y="1453" width="101" height="33"/><text class="t b f15" x="1180.5" y="1473">MIR</text></g>
<g id="mci"><rect class="sb" x="1380" y="1283" width="97" height="39"/><text class="t b f15" x="1428.5" y="1307.5">MCI</text></g>

<!-- Legend -->
<g id="legend">
<rect x="108" y="1495" width="1616" height="55" fill="#fff" stroke="#31849b" stroke-width="3"/>
<rect x="124" y="1507" width="31" height="26" fill="#1040b8" stroke="#7f7f7f" stroke-width="3"/>
<text class="l"><tspan x="162" y="1516.5">Dewan Komisaris &amp;</tspan><tspan x="162" y="1531">Komite di bawah Komisaris</tspan></text>
<rect x="372" y="1507" width="31" height="26" fill="#f58000" stroke="#7f7f7f" stroke-width="3"/>
<text class="l" x="407.5" y="1524">Direktur</text>
<rect x="476" y="1507" width="31" height="26" fill="#d9e2f8" stroke="#7f7f7f" stroke-width="3"/>
<text class="l"><tspan x="513.5" y="1516.5">Direksi &amp; Komite</tspan><tspan x="513.5" y="1531">di bawah Direksi</tspan></text>
<rect x="651" y="1507" width="32" height="26" fill="#fad21a" stroke="#7f7f7f" stroke-width="3"/>
<text class="l" x="688" y="1524">SEVP</text>
<rect x="751" y="1507" width="31" height="26" fill="#f2f2f2" stroke="#7f7f7f" stroke-width="3"/>
<text class="l"><tspan x="787.5" y="1516.5">Group</tspan><tspan x="787.5" y="1531">Head</tspan></text>
<rect x="854" y="1507" width="34" height="26" fill="url(#hatch)" stroke="#b0b0b0" stroke-width="2"/>
<text class="l" x="896.5" y="1524">Deputy Group Head</text>
<ellipse cx="1085" cy="1520" rx="23" ry="15" fill="#f2f2f2" stroke="#8c8c8c" stroke-width="3"/>
<text class="l"><tspan x="1114.5" y="1516.5">Pejabat Fungsional dan</tspan><tspan x="1114.5" y="1531">Bukan Struktural</tspan></text>
<rect x="1290.5" y="1507" width="34" height="26" fill="#f2f2f2" stroke="#5b8ed6" stroke-width="3"/>
<text class="l"><tspan x="1328.5" y="1516.5">Perusahaan</tspan><tspan x="1328.5" y="1531">Anak</tspan></text>
<rect x="1432" y="1507" width="34" height="26" fill="#f2f2f2" stroke="#92d050" stroke-width="3"/>
<text class="l"><tspan x="1470.5" y="1516.5">Entitas</tspan><tspan x="1470.5" y="1531">Terafiliasi</tspan></text>
<rect x="1561.5" y="1507" width="31.5" height="26" fill="#f2f2f2" stroke="#f5821f" stroke-width="3"/>
<text class="l"><tspan x="1598.5" y="1516.5">Kantor</tspan><tspan x="1598.5" y="1531">Luar Negeri</tspan></text>
</g>
</svg>
